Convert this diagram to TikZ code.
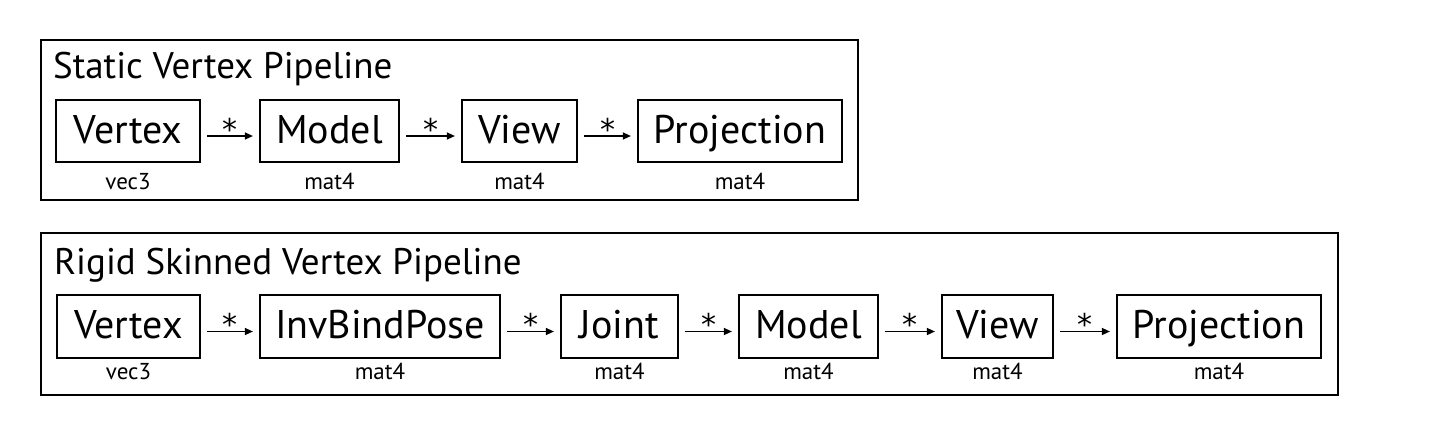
\documentclass[tikz,border=0pt]{standalone}
\usepackage{fontspec}
\setmainfont{PT Sans}
\newfontfamily\starfont{DejaVu Sans}
\usetikzlibrary{arrows.meta,calc}
\begin{document}
\begin{tikzpicture}[x=1pt,y=-1pt,
  frame/.style={draw=black,line width=1.8pt},
  stage/.style={draw=black,line width=2.2pt,inner sep=0pt,minimum height=62pt,text height=31pt,text depth=7pt,font=\fontsize{40}{44}\selectfont},
  title/.style={anchor=base west,inner sep=0pt,font=\fontsize{37}{40}\selectfont},
  typ/.style={anchor=base,inner sep=0pt,font=\fontsize{23}{26}\selectfont},
  mul/.style={line width=1.4pt,-{Triangle[length=8pt,width=7pt]}},
  star/.style={anchor=base,inner sep=0pt,yshift=-4pt,font=\starfont\fontsize{30}{32}\selectfont}]
\useasboundingbox (0,0) rectangle (1453,437);
% frames
\draw[frame] (41,40) rectangle (858,200);
\draw[frame] (41,233) rectangle (1338,395);
\node[title] (t1) at (53,78) {Static Vertex Pipeline};
\node[title] (t2) at (54,274) {Rigid Skinned Vertex Pipeline};
% row 1
\node[stage,minimum width=144pt] (v1) at (128,131) {Vertex};
\node[stage,minimum width=139pt] (m1) at (329.5,131) {Model};
\node[stage,minimum width=115pt] (w1) at (519.5,131) {View};
\node[stage,minimum width=204pt] (p1) at (740,131) {Projection};
\node[typ] (lv1) at (128,189) {vec3};
\node[typ] (lm1) at (329.5,189) {mat4};
\node[typ] (lw1) at (519.5,189) {mat4};
\node[typ] (lp1) at (740,189) {mat4};
\foreach \a/\b in {v1/m1,m1/w1,w1/p1}{
  \draw[mul] ([xshift=6pt,yshift=-5pt]\a.east) -- node[star]{*} ([xshift=-6pt,yshift=-5pt]\b.west);
}
% row 2
\node[stage,minimum width=143pt,minimum height=63pt] (v2) at (128.5,326.5) {Vertex};
\node[stage,minimum width=240pt,minimum height=63pt] (i2) at (380,326.5) {InvBindPose};
\node[stage,minimum width=117pt,minimum height=63pt] (j2) at (619.5,326.5) {Joint};
\node[stage,minimum width=139pt,minimum height=63pt] (m2) at (808.5,326.5) {Model};
\node[stage,minimum width=111pt,minimum height=63pt] (w2) at (997.5,326.5) {View};
\node[stage,minimum width=204pt,minimum height=63pt] (p2) at (1219,326.5) {Projection};
\node[typ] (lv2) at (128.5,379) {vec3};
\node[typ] (li2) at (380,379) {mat4};
\node[typ] (lj2) at (619.5,379) {mat4};
\node[typ] (lm2) at (808.5,379) {mat4};
\node[typ] (lw2) at (997.5,379) {mat4};
\node[typ] (lp2) at (1219,379) {mat4};
\foreach \a/\b in {v2/i2,i2/j2,j2/m2,m2/w2,w2/p2}{
  \draw[mul] ([xshift=6pt,yshift=-5pt]\a.east) -- node[star]{*} ([xshift=-6pt,yshift=-5pt]\b.west);
}
\end{tikzpicture}
\end{document}
